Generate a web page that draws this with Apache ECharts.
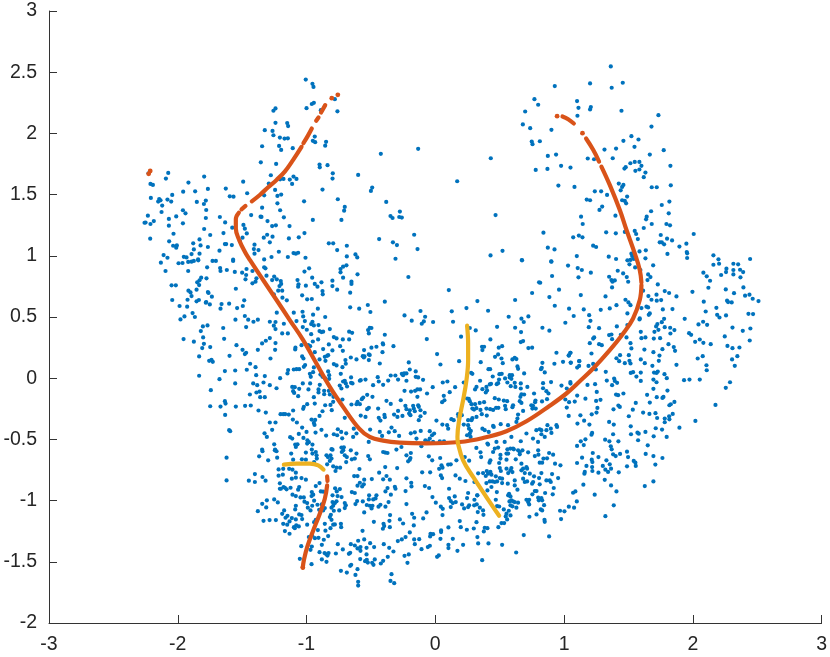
<!DOCTYPE html>
<html>
<head>
<meta charset="utf-8">
<style>html,body{margin:0;padding:0;background:#fff}#main{width:830px;height:657px}</style>
<script src="https://cdn.jsdelivr.net/npm/echarts@6/dist/echarts.min.js"></script>
</head>
<body>
<div id="main"></div>
<script>
// values, grouped by area of the plot
const pointsUpperLeft = [[-1.006,2.44],[-.954,2.405],[-.946,2.38],[-.78,2.28],[-.959,2.24],[-.943,2.25],[-1,2.206],[-.889,2.19],[-.76,2.18],[-1.241,2.204],[-1.257,2.185],[-1.241,2.086],[-1.15,2.084],[-1.143,2.06],[-1.324,2.026],[-1.264,2.02],[-1.257,1.985],[-1.207,1.966],[-1.171,1.958],[-1.145,1.96],[-.936,1.974],[-.951,1.939],[-.933,1.928],[-.848,1.931],[-.855,1.9],[-1.345,1.895],[-1.213,1.898],[-1.197,1.865],[-1.107,1.879],[-1.355,1.764],[-1.236,1.751],[-.899,1.745],[-.897,1.723],[-.837,1.74],[-.796,1.674],[-.798,1.631],[-.599,1.661],[-2.227,1.674],[-2.074,1.677],[-2.092,1.631],[-1.795,1.647],[-2.212,1.587],[-2.193,1.579],[-1.917,1.598],[-1.492,1.606],[-1.277,1.658],[-1.205,1.625],[-1.179,1.628],[-1.13,1.623],[-1.101,1.647],[-1.078,1.628],[-1.112,1.587],[-1.293,1.59],[-1.766,1.546],[-1.627,1.549],[-1.958,1.524],[-1.865,1.527],[-1.244,1.538],[-.876,1.541],[-2.043,1.497],[-1.461,1.511],[-1.596,1.486],[-1.567,1.483],[-1.329,1.494],[-1.226,1.489],[-1.197,1.5],[-2.209,1.473],[-2.144,1.464],[-2.134,1.453],[-2.152,1.443],[-2.08,1.459],[-2.051,1.443],[-1.852,1.44],[-1.782,1.451],[-1.797,1.423],[-2.121,1.41],[-1.226,1.429],[-1.019,1.445],[-.757,1.462],[-1.345,1.393],[-.703,1.399],[-.708,1.369],[-1.96,1.372],[-1.94,1.347],[-2.126,1.358],[-1.779,1.374],[-1.205,1.372],[-2.232,1.328],[-2.012,1.322],[-1.782,1.309],[-1.673,1.317],[-2.069,1.301],[-1.43,1.333],[-1.357,1.32],[-1.35,1.318],[-1.176,1.314],[-.951,1.293],[-.729,1.293],[-2.258,1.27],[-2.25,1.272],[-2.186,1.284],[-2.212,1.26],[-1.96,1.265],[-1.632,1.273],[-1.303,1.284],[-2.069,1.246],[-1.49,1.252],[-1.479,1.222],[-1.795,1.219],[-1.577,1.23],[-1.267,1.243],[-1.238,1.249],[-1.132,1.243],[-2.033,1.18],[-1.748,1.17],[-1.645,1.186],[-1.464,1.183],[-1.306,1.172],[-1.332,1.148],[-1.264,1.156],[-1.137,1.142],[-1.06,1.151],[-1.016,1.186],[-1.497,1.148],[-2.214,1.14],[-1.831,1.134],[-2.067,1.118],[-1.88,1.102],[-1.634,1.096],[-1.624,1.096],[-1.58,1.088],[-1.518,1.12],[-1.285,1.11],[-1.404,1.091],[-.827,1.102],[-.793,1.102],[-.687,1.082],[-2.036,1.082],[-2.007,1.085],[-2.012,1.066],[-1.823,1.085],[-1.766,1.072],[-1.875,1.052],[-1.676,1.042],[-1.409,1.055],[-1.373,1.047],[-1.404,1.017],[-1.215,1.033],[-.762,1.047],[-1.101,1.022],[-1.065,1.025],[-1.083,1.017],[-1.893,1.014],[-1.831,1.017],[-2.11,1.006],[-.687,.995],[-.62,1.011],[-1.953,.992],[-1.932,.987],[-2.08,.984],[-1.842,.97],[-1.272,.99],[-1.145,.99],[-1.008,.984],[-1.329,.97],[-1.57,.968]];

const pointsMiddleLeft = [[-2.131,.944],[-1.994,.939],[-1.963,.941],[-1.919,.95],[-1.893,.952],[-1.875,.958],[-1.841,.963],[-1.73,.958],[-1.704,.958],[-2.095,.876],[-1.772,.906],[-1.919,.876],[-1.671,.9],[-1.668,.876],[-1.619,.884],[-1.557,.868],[-1.5,.862],[-1.466,.892],[-1.57,.958],[-1.469,.843],[-1.474,.808],[-1.42,.876],[-1.329,.906],[-1.319,.898],[-1.311,.838],[-1.389,.816],[-1.396,.789],[-1.42,.775],[-1.251,.83],[-1.267,.802],[-1.231,.808],[-1.2,.794],[-1.197,.77],[-1.818,.821],[-1.831,.8],[-1.849,.783],[-1.834,.761],[-1.777,.816],[-2.048,.759],[-2.015,.759],[-1.549,.731],[-1.917,.715],[-1.901,.701],[-1.854,.723],[-1.893,.671],[-1.766,.704],[-1.761,.696],[-1.735,.666],[-2.043,.639],[-1.924,.641],[-1.854,.628],[-1.836,.639],[-1.779,.622],[-1.782,.617],[-1.751,.603],[-1.66,.606],[-1.668,.568],[-1.601,.609],[-1.484,.636],[-1.495,.59],[-1.539,.573],[-1.986,.59],[-1.927,.584],[-1.07,.802],[-1.062,.767],[-1.065,.748],[-1.005,.756],[-.956,.821],[-.936,.77],[-.915,.748],[-.884,.783],[-.799,.797],[-.799,.753],[-.762,.723],[-.876,.712],[-.874,.685],[-1.016,.871],[-.98,.898],[-.736,.892],[-.736,.865],[-.716,.911],[-.69,.922],[-.716,.821],[-.604,.849],[-.651,.789],[-.651,.77],[-.661,.699],[-1.034,.677],[-.995,.644],[-.959,.647],[-1.22,.715],[-1.189,.715],[-1.21,.753],[-1.187,.658],[-1.153,.636],[-1.254,.685],[-.912,.568],[-.661,.579],[-.591,.568],[-1.231,.535],[-1.099,.535],[-1.031,.543],[-1.026,.505],[-1.013,.467],[-.949,.519],[-.855,.5],[-1.979,.48],[-1.948,.505],[-1.885,.532],[-1.867,.5],[-1.552,.478],[-1.479,.508],[-1.453,.478],[-1.412,.461],[-1.378,.478],[-1.078,.467],[-.954,.461],[-.964,.442],[-.943,.431],[-.907,.434],[-1.285,.461],[-1.241,.459],[-1.254,.429],[-1.241,.401],[-1.176,.445],[-1.805,.423],[-1.769,.431],[-1.469,.418],[-1.647,.41],[-1.821,.385],[-1.029,.418],[-.998,.396],[-.964,.36],[-.819,.401],[-1.189,.366],[-1.145,.366],[-.899,.385],[-.884,.377],[-.871,.38],[-.669,.38],[-.646,.371],[-1.803,.333],[-1.955,.32],[-1.875,.298],[-1.64,.322],[-1.285,.328],[-1.316,.306],[-1.345,.284],[-1.241,.287],[-1.244,.232],[-.788,.336],[-.767,.325],[-.718,.317],[-.669,.317],[-1.797,.281],[-.91,.317],[-.951,.3],[-.827,.276],[-.739,.262],[-1.748,.254],[-1.81,.246],[-1.086,.249],[-1.088,.235],[-1.039,.27],[-.987,.27],[-.972,.262],[-.871,.238],[-.799,.227],[-.718,.224],[-1.544,.27],[-1.497,.232],[-1.469,.208],[-1.479,.197],[-1.378,.232],[-.936,.213],[-1.598,.183],[-1.834,.178],[-1.034,.178],[-1.024,.161],[-.84,.183],[-.832,.188],[-.858,.175],[-1.28,.161],[-.656,.169],[-1.756,.142],[-1.738,.15],[-1.728,.134],[-.899,.153],[-.853,.142],[-.698,.148],[-.612,.153],[-1.438,.118],[-1.396,.09],[-1.011,.107],[-1.021,.093],[-.788,.115],[-.767,.104],[-.695,.118],[-.721,.09],[-1.464,.069],[-1.634,.058],[-1.554,.063],[-1.143,.066],[-1.148,.039],[-1.099,.071],[-1.078,.074],[-1.057,.074],[-.943,.088],[-.949,.049],[-.974,.036],[-.967,.011],[-.832,.055],[-.824,.025],[-.734,.036],[-.892,.03],[-.876,.011],[-.855,-.002],[-.824,-.005],[-1.391,.025],[-1.324,.017],[-1.834,.02],[-1.205,0],[-.654,.006],[-1.676,-.008],[-1.554,-.043],[-1.414,-.043],[-1.383,-.057],[-1.334,-.035],[-1.285,-.057],[-1.233,-.082],[-1.029,-.043],[-.972,-.043],[-.897,-.054],[-.985,-.092],[-1.111,-.071],[-1.091,-.073],[-1.104,-.106],[-1.096,-.12],[-1.057,-.087],[-1.065,-.147],[-.703,-.021],[-.716,-.027],[-.695,-.043],[-.654,-.038],[-.643,-.043],[-.586,-.021],[-.742,-.06],[-.685,-.068],[-.729,-.084],[-1.743,-.098],[-1.44,-.133],[-1.389,-.117],[-1.365,-.109],[-1.36,-.155],[-1.324,-.155],[-.907,-.092],[-.907,-.117],[-.863,-.103],[-.863,-.131],[-.827,-.103],[-.819,-.133],[-.943,-.155],[-.791,-.152],[-1.748,-.229],[-1.668,-.232],[-1.634,-.188],[-1.629,-.207],[-1.549,-.232],[-1.477,-.226],[-1.433,-.223],[-1.021,-.234],[-1.026,-.25],[-.995,-.212],[-.936,-.207],[-.855,-.221],[-.814,-.218],[-.793,-.193],[-.721,-.174],[-.651,-.215],[-.612,-.212],[-.604,-.193],[-1.373,-.264],[-1.316,-.281],[-1.104,-.264],[-.876,-.27],[-.804,-.261],[-.899,-.308],[-1.202,-.294],[-1.181,-.294],[-1.166,-.294],[-1.138,-.297],[-1.632,-.3],[-1.106,-.338],[-1.075,-.362],[-1.285,-.362],[-1.241,-.362],[-.961,-.338],[-.933,-.341],[-.943,-.365],[-.938,-.382],[-.703,-.324],[-.633,-.412],[-1.034,-.403],[-1.601,-.425],[-1.593,-.433],[-1.267,-.422],[-1.326,-.45],[-1.308,-.48],[-1.06,-.455],[-1.024,-.488],[-1,-.439],[-.93,-.444],[-.884,-.422],[-.848,-.469],[-.788,-.458],[-.762,-.466],[-.731,-.439],[-.692,-.45],[-.757,-.417],[-.723,-.491],[-.612,-.452],[-.638,-.48],[-1.127,-.482],[-1.111,-.493],[-.993,-.507],[-.982,-.523],[-.954,-.542],[-.995,-.534],[-1.088,-.542],[-1.07,-.54],[-1.083,-.562],[-1.251,-.54],[-1.244,-.583],[-1.345,-.583],[-.959,-.583],[-.806,-.58],[-.729,-.567],[-.71,-.564]];

const pointsLowerLeft = [[-1.246,-.589],[-1.233,-.597],[-1.342,-.597],[-1.368,-.638],[-1.298,-.671],[-1.228,-.649],[-1.119,-.616],[-1.005,-.608],[-.928,-.603],[-.954,-.616],[-.922,-.63],[-.92,-.657],[-.941,-.685],[-1.036,-.663],[-1.005,-.666],[-1.104,-.666],[-.845,-.63],[-.814,-.63],[-.834,-.644],[-.806,-.657],[-.819,-.676],[-.84,-.704],[-.798,-.584],[-.726,-.603],[-.715,-.589],[-.703,-.63],[-.687,-.644],[-.692,-.685],[-.656,-.589],[-.612,-.616],[-.648,-.663],[-.625,-.657],[-.521,-.636],[-.508,-.663],[-.405,-.603],[-.389,-.608],[-.371,-.611],[-.19,-.611],[-.224,-.63],[-.193,-.652],[-.211,-.679],[-.198,-.666],[-.05,-.638],[-.024,-.671],[.038,-.652],[-.793,-.72],[-.767,-.731],[-.775,-.758],[-.739,-.731],[-.389,-.726],[-.296,-.734],[-.589,-.742],[-.604,-.8],[-.102,-.769],[-.04,-.769],[.048,-.712],[.03,-.74],[.056,-.731],[.1,-.706],[.043,-.794],[.053,-.816],[-.436,-.772],[-.379,-.799],[-.405,-.826],[-.353,-.829],[-1.217,-.745],[-1.181,-.74],[-1.217,-.796],[-1.184,-.788],[-1.135,-.74],[-1.109,-.747],[-1.083,-.772],[-1.114,-.821],[-1.083,-.813],[-1.039,-.816],[-1.005,-.829],[-1.401,-.783],[-1.342,-.807],[-1.318,-.837],[-1.401,-.848],[-1.448,-.837],[-1.621,-.649],[-1.621,-.835],[-.63,-.8],[-.552,-.829],[-.493,-.824],[-.586,-.854],[-.555,-.867],[-.568,-.884],[-.604,-.878],[-.224,-.818],[-.187,-.854],[-.185,-.884],[-.081,-.881],[-.048,-.897],[-.314,-.887],[-.309,-.903],[-.371,-.898],[-.387,-.925],[-.231,-.922],[-.345,-.952],[-.022,-.971],[.107,-.979],[.107,-.903],[-1.207,-.859],[-1.207,-.903],[-1.179,-.889],[-1.168,-.895],[-1.155,-.908],[-1.199,-.903],[-1.124,-.895],[-1.057,-.889],[-1.065,-.911],[-.928,-.881],[-.899,-.857],[-.889,-.925],[-.871,-.927],[-.959,-.93],[-.948,-.952],[-.961,-.963],[-.778,-.9],[-.741,-.906],[-.648,-.93],[-.625,-.938],[-1.109,-.952],[-1.083,-.963],[-1.047,-.974],[-1.021,-.974],[-.765,-.925],[-.798,-.957],[-.759,-.963],[-.728,-.971],[-.514,-.957],[-.457,-.957],[-.464,-.982],[-.482,-.99],[-.516,-.99],[-.607,-1.004],[-.62,-1.028],[-.563,-1.007],[-.532,-1.036],[-.508,-1.042],[-.488,-1.042],[-.495,-1.064],[-.441,-1.05],[-.426,-1.034],[-.387,-1.05],[-.363,-1.012],[-.224,-1.028],[.004,-1.017],[.043,-1.05],[.058,-1.067],[-1.308,-.998],[-1.251,-.99],[-1.223,-1.015],[-1.344,-1.026],[-1.313,-1.056],[-1.378,-1.086],[-1.016,-1.009],[-.995,-1.02],[-.941,-1.001],[-.956,-1.042],[-.99,-1.058],[-.969,-1.08],[-1.083,-1.042],[-1.088,-1.072],[-1.174,-1.08],[-1.189,-1.108],[-.915,-1.034],[-.881,-1.031],[-.902,-1.075],[-.871,-1.08],[-.858,-1.061],[-.806,-1.058],[-.793,-1.042],[-.767,-1.006],[-.78,-1.02],[-.798,-1.012],[-.703,-1.02],[-.695,-1.039],[-.703,-1.061],[-.746,-1.08],[-.788,-1.083],[-.552,-1.097],[-1.057,-1.113],[-1.039,-1.118],[-1.083,-1.154],[-1.034,-1.151],[-1.148,-1.124],[-1.163,-1.14],[-1.114,-1.143],[-1.132,-1.17],[-1.181,-1.19],[-1.15,-1.197],[-1.334,-1.165],[-1.287,-1.159],[-1.238,-1.159],[-1.098,-1.217],[-1.08,-1.203],[-1.06,-1.211],[-1.091,-1.225],[-.995,-1.197],[-.941,-1.176],[-.928,-1.157],[-.811,-1.116],[-.819,-1.135],[-.806,-1.157],[-.858,-1.19],[-.793,-1.197],[-.78,-1.195],[-.733,-1.19],[-.731,-1.217],[-.351,-1.118],[-.356,-1.165],[-.353,-1.217],[-.402,-1.19],[-.397,-1.208],[-.407,-1.23],[-.477,-1.173],[-.275,-1.154],[-.25,-1.187],[-.18,-1.108],[-.164,-1.14],[-.167,-1.203],[-.094,-1.146],[-.068,-1.097],[.056,-1.118],[-.037,-1.271],[-.017,-1.274],[-.04,-1.293],[.102,-1.219],[.045,-1.244],[.045,-1.257],[.04,-1.312],[-1.168,-1.249],[-1.132,-1.271],[-.982,-1.298],[-.956,-1.285],[-.935,-1.307],[-.907,-1.304],[-.912,-1.241],[-.853,-1.246],[-.814,-1.225],[-.866,-1.32],[-.832,-1.29],[-1.041,-1.372],[-.959,-1.375],[-.969,-1.402],[-.881,-1.361],[-.757,-1.356],[-.565,-1.247],[-.599,-1.328],[-.552,-1.317],[-.656,-1.356],[-.506,-1.348],[-.534,-1.386],[-.581,-1.38],[-.625,-1.367],[-.604,-1.391],[-.581,-1.41],[-.475,-1.38],[-.4,-1.356],[-.718,-1.399],[-.671,-1.435],[-.661,-1.427],[-.291,-1.331],[-.26,-1.317],[-.231,-1.298],[-.198,-1.26],[-.164,-1.317],[-.159,-1.356],[-.125,-1.315],[-.358,-1.386],[-.325,-1.416],[-.369,-1.459],[-.239,-1.451],[-.206,-1.44],[-.216,-1.508],[-.107,-1.397],[-.058,-1.38],[-.042,-1.369],[.014,-1.459],[.027,-1.448],[.102,-1.361],[.102,-1.388],[-.899,-1.421],[-.86,-1.429],[-.845,-1.44],[-.829,-1.429],[-.837,-1.449],[-.772,-1.432],[-.881,-1.481],[-.845,-1.5],[-1.052,-1.476],[-.961,-1.519],[-.534,-1.44],[-.532,-1.484],[-.583,-1.478],[-.545,-1.495],[-.524,-1.506],[-.47,-1.481],[-.49,-1.508],[-.48,-1.525],[-.423,-1.514],[-.405,-1.492],[-.661,-1.533],[-.653,-1.525],[-.604,-1.56],[-.687,-1.588],[-.733,-1.574],[-.62,-1.607],[-.34,-1.601],[-.348,-1.656],[-.319,-1.675],[-.599,-1.664],[-.599,-1.694]];

const pointsCentre = [[-.209,.827],[.105,.72],[-.392,.625],[.327,.63],[.62,.639],[.752,.696],[.806,.783],[.815,.78],[.907,.835],[1.031,.92],[1.106,.9],[.961,.723],[.886,.663],[.928,.592],[1.039,.568],[.902,.952],[.674,.963],[-.524,.598],[-.504,.541],[-.239,.513],[-.115,.549],[-.079,.502],[-.089,.464],[-.105,.445],[-.183,.47],[-.017,.459],[.128,.546],[.138,.461],[.242,.573],[.41,.551],[.57,.502],[.669,.486],[.687,.459],[.723,.505],[1.01,.453],[1.075,.508],[.48,.42],[.62,.412],[.832,.412],[.886,.388],[-.509,.412],[-.522,.393],[-.496,.41],[-.516,.366],[-.392,.355],[.314,.39],[.268,.41],[.666,.377],[.2,.339],[-.066,.32],[.428,.317],[.664,.295],[.682,.303],[-.408,.284],[-.405,.276],[-.325,.262],[-.496,.249],[-.457,.257],[-.553,.23],[-.41,.213],[.363,.257],[.379,.257],[.366,.23],[.493,.249],[.519,.262],[.723,.246],[.752,.249],[.941,.208],[1.049,.208],[1.036,.186],[.992,.134],[1.052,.126],[1.119,.14],[.014,.197],[-.563,.18],[-.55,.178],[-.516,.194],[-.509,.189],[-.516,.148],[-.555,.169],[-.431,.12],[-.206,.129],[.185,.139],[.04,.112],[.464,.175],[.488,.194],[.514,.161],[.524,.123],[.599,.153],[.617,.167],[.63,.156],[.353,.131],[.413,.074],[.426,.074],[.832,.126],[.827,.085],[.821,.074],[.925,.118],[.85,.047],[.638,.096],[.643,.077],[.69,.039],[.278,.044],[.288,.036],[-.198,.071],[-.242,.039],[-.26,.036],[-.224,.039],[-.152,.055],[-.346,.022],[-.31,.022],[-.289,-.011],[-.25,.025],[-.224,-.021],[-.152,.011],[-.133,.006],[-.095,-.013],[-.447,.008],[-.439,-.027],[-.405,-.054],[-.366,-.019],[-.483,-.057],[-.579,-.016],[-.542,-.011],[.446,.014],[.498,.033],[.516,.036],[.542,-.002],[.578,.025],[.596,.025],[.578,.006],[.591,-.005],[.617,-.038],[.56,-.035],[.586,-.065],[.622,-.071],[.495,-.011],[.488,-.041],[.423,-.051],[.477,-.049],[.433,-.046],[.348,-.021],[.32,-.071],[.309,-.092],[.058,-.035],[.094,-.027],[.221,-.035],[.397,-.071],[.402,-.1],[.366,-.09],[.392,-.117],[.154,-.073],[.112,-.114],[-.02,-.073],[-.239,-.103],[-.188,-.109],[-.157,-.103],[-.139,-.092],[-.118,-.092],[-.139,-.152],[-.064,-.125],[-.488,-.152],[-.529,-.136],[-.56,-.158],[-.571,-.171],[-.379,-.185],[-.346,-.21],[-.268,-.18],[.066,-.144],[.071,-.18],[.053,-.196],[.664,-.043],[.664,-.084],[.669,-.131],[.661,-.152],[.69,-.133],[.656,-.188],[.669,-.202],[.715,-.071],[.767,-.125],[.863,-.106],[.879,-.125],[.837,-.082],[.837,-.041],[.899,-.032],[.98,-.06],[1.021,-.084],[1.049,-.032],[.778,-.183],[.775,-.196],[.829,-.19],[.868,-.171],[1.01,-.174],[1.039,-.196],[1.021,-.24],[.462,-.163],[.493,-.174],[.532,-.183],[.558,-.188],[.604,-.221],[.599,-.237],[.345,-.202],[.379,-.196],[.309,-.212],[.26,-.169],[.268,-.188],[.247,-.166],[.397,-.248],[.426,-.253],[.449,-.259],[.472,-.242],[.49,-.242],[.542,-.226],[.547,-.253],[.746,-.221],[.759,-.226],[.754,-.248],[.78,-.248],[.682,-.267],[.288,-.248],[.301,-.256],[.319,-.245],[.281,-.212],[.351,-.259],[-.542,-.316],[-.579,-.305],[-.444,-.248],[-.439,-.324],[-.426,-.346],[-.395,-.3],[-.392,-.319],[-.516,-.242],[-.529,-.253],[-.586,-.212],[-.289,-.267],[-.32,-.297],[-.255,-.308],[-.294,-.316],[-.232,-.226],[-.224,-.253],[-.198,-.262],[-.203,-.289],[-.193,-.302],[-.172,-.226],[-.167,-.248],[-.133,-.221],[-.128,-.234],[-.159,-.27],[-.115,-.262],[-.082,-.283],[-.115,-.311],[-.128,-.343],[.009,-.346],[.055,-.379],[.092,-.384],[.1,-.412],[.125,-.335],[.143,-.343],[.221,-.379],[.255,-.343],[.288,-.327],[.281,-.343],[.32,-.316],[.361,-.294],[.4,-.305],[.177,-.294],[.18,-.315],[.206,-.302],[.255,-.384],[.262,-.412],[.276,-.431],[.268,-.452],[.247,-.466],[.274,-.48],[.366,-.412],[.384,-.425],[.449,-.39],[.454,-.398],[.508,-.376],[.565,-.384],[.643,-.297],[.638,-.33],[.63,-.357],[.415,-.439],[.41,-.542],[.405,-.534],[.475,-.521],[.539,-.521],[.591,-.48],[.604,-.575],[.583,-.575],[.664,-.515],[.708,-.452],[.759,-.493],[.798,-.521],[.785,-.425],[.811,-.417],[.824,-.458],[.824,-.425],[.863,-.425],[.85,-.48],[.902,-.447],[.941,-.384],[.946,-.398],[.897,-.412],[.871,-.384],[1.036,-.308],[-.506,-.42],[-.431,-.439],[-.413,-.472],[-.34,-.403],[-.361,-.442],[-.315,-.433],[-.281,-.472],[-.19,-.45],[-.159,-.442],[-.113,-.431],[-.146,-.493],[-.043,-.433],[-.009,-.452],[-.025,-.466],[-.043,-.493],[-.077,-.507],[-.056,-.515],[-.017,-.521],[.035,-.515],[.068,-.515],[-.108,-.556],[-.263,-.562],[-.302,-.583],[-.517,-.521],[.319,-.57],[.462,-.575],[.488,-.567],[1.101,-.553]];

const pointsLowerRight = [[.351,-.606],[.356,-.644],[.449,-.603],[.506,-.627],[.553,-.616],[.566,-.616],[.61,-.581],[.643,-.589],[.656,-.603],[.677,-.589],[.721,-.606],[.56,-.581],[.656,-.622],[.799,-.589],[.773,-.636],[.801,-.625],[.884,-.611],[.915,-.625],[.84,-.657],[.868,-.655],[.428,-.671],[.421,-.69],[.506,-.657],[.496,-.693],[.553,-.666],[.625,-.663],[.669,-.698],[.811,-.69],[.83,-.69],[.93,-.698],[.972,-.712],[.164,-.671],[.12,-.704],[.263,-.674],[.229,-.644],[.708,-.726],[.682,-.739],[.713,-.739],[.669,-.753],[.501,-.734],[.509,-.758],[.553,-.739],[.591,-.734],[.599,-.767],[.566,-.775],[.584,-.753],[.4,-.758],[.428,-.766],[.41,-.78],[.392,-.799],[.333,-.777],[.371,-.775],[.436,-.788],[.47,-.802],[.501,-.816],[.519,-.821],[.48,-.843],[.444,-.843],[.423,-.843],[.462,-.848],[.519,-.857],[.397,-.857],[.19,-.821],[.234,-.84],[.304,-.848],[.157,-.794],[.695,-.775],[.734,-.78],[.767,-.802],[.806,-.816],[.824,-.775],[.907,-.783],[.954,-.816],[.889,-.835],[.863,-.835],[.897,-.848],[.682,-.821],[.713,-.843],[.695,-.848],[.752,-.862],[.76,-.848],[.811,-.867],[.617,-.835],[.617,-.876],[.563,-.862],[.638,-.911],[.478,-.93],[.436,-.889],[.405,-.917],[.325,-.957],[.255,-.938],[.247,-.979],[.773,-.922],[.754,-.949],[.786,-.922],[.853,-.938],[.92,-.897],[.912,-.949],[1.07,-.936],[1.088,-.925],[1.238,-.952],[1.15,-.87],[1.099,-1.007],[1.407,-.925],[1.365,-.876],[1.316,-.83],[1.386,-1.039],[1.321,-1.127],[1.627,-.881],[1.694,-.843],[.566,-.957],[.573,-.944],[.584,-.966],[.591,-.998],[.576,-1.007],[.604,-1.007],[.617,-1.012],[.643,-1.017],[.584,-1.039],[.63,-1.058],[.599,-1.047],[.571,-1.083],[.708,-.993],[.729,-.993],[.721,-1.012],[.729,-1.031],[.799,-.976],[.824,-.979],[.804,-.998],[.83,-.998],[.845,-1.037],[.819,-1.072],[.83,-1.08],[.47,-.993],[.48,-1.045],[.496,-1.048],[.532,-1.072],[.553,-1.107],[.547,-1.129],[.584,-1.121],[.558,-1.154],[.514,-1.184],[.535,-1.184],[.49,-1.217],[.327,-.957],[.322,-1.031],[.304,-.993],[.302,-1.039],[.263,-1.039],[.255,-1.053],[.208,-1.031],[.224,-1.064],[.151,-.966],[.12,-1.004],[.136,-1.02],[.159,-1.012],[.12,-1.053],[.346,-1.058],[.33,-1.094],[.371,-1.08],[.374,-1.116],[.731,-1.132],[.786,-1.113],[.848,-1.157],[.85,-1.173],[.969,-1.083],[1.003,-1.088],[1.037,-1.05],[1.078,-1.058],[.977,-1.151],[.19,-1.167],[.198,-1.217],[.245,-1.238],[.299,-1.228],[.32,-1.176],[.384,-1.222],[.405,-1.225],[.377,-1.252],[.687,-1.282],[.884,-1.293],[.327,-1.298],[.333,-1.35],[.413,-1.35],[.519,-1.361],[.628,-1.424],[.216,-1.361],[.172,-1.41],[.136,-1.312],[.364,-1.487],[1.218,-.447],[1.213,-.461],[1.381,-.458],[1.52,-.458],[1.57,-.445],[1.58,-.453],[1.632,-.439],[1.696,-.475],[1.797,-.48],[1.575,-.507],[1.166,-.499],[1.13,-.516],[1.153,-.546],[1.319,-.502],[1.352,-.516],[1.422,-.516],[1.363,-.556],[1.37,-.581],[1.65,-.548],[1.223,-.611],[1.14,-.649],[1.267,-.644],[1.215,-.666],[1.22,-.685],[1.174,-.717],[1.218,-.726],[1.22,-.758],[1.161,-.766],[1.158,-.78],[1.267,-.772],[1.301,-.717],[1.329,-.671],[1.355,-.704],[1.321,-.747],[1.365,-.739],[1.342,-.766],[1.425,-.769],[1.101,-.693],[1.381,-.622],[1.401,-.636],[1.435,-.619],[1.489,-.6],[1.497,-.644],[1.489,-.72],[1.541,-.676],[1.554,-.69],[1.557,-.717],[1.634,-.619],[1.694,-.636],[1.764,-.652],[1.709,-.706]];

const pointsRight = [[1.071,1.151],[1.115,1.165],[1.143,1.151],[1.099,.998],[1.327,1.192],[1.402,1.184],[1.472,1.195],[1.549,1.203],[1.56,1.178],[1.573,1.137],[1.751,1.17],[1.8,1.14],[1.839,1.126],[2.007,1.178],[1.743,1.11],[1.759,1.11],[1.777,1.094],[1.226,1.083],[1.249,1.072],[1.586,1.036],[1.635,1.045],[1.523,1.017],[1.529,.998],[1.542,.974],[1.347,.993],[1.404,.974],[1.492,.963],[1.516,.966],[1.508,.93],[1.552,.905],[1.632,.979],[1.692,.922],[1.803,1.015],[1.896,1.075],[1.95,1.099],[1.953,1.031],[1.956,1.02],[1.956,.982],[2.16,1.004],[2.199,.971],[2.16,.927],[2.204,.935],[2.445,.974],[2.315,.935],[2.352,.93],[2.261,.895],[2.258,.867],[2.315,.884],[2.315,.848],[2.367,.886],[2.391,.867],[2.37,.824],[2.22,.843],[2.082,.862],[2.108,.832],[2.134,.796],[2.121,.739],[1.138,.884],[1.208,.862],[1.112,.824],[1.417,.878],[1.459,.856],[1.487,.826],[1.498,.788],[1.35,.829],[1.368,.802],[1.376,.788],[1.394,.799],[1.373,.742],[1.593,.884],[1.653,.848],[1.671,.826],[1.648,.802],[1.728,.766],[1.614,.715],[1.655,.671],[1.679,.641],[1.718,.682],[1.72,.633],[1.754,.638],[1.782,.712],[1.816,.696],[1.873,.668],[1.322,.668],[1.13,.679],[1.997,.706],[2.256,.725],[2.32,.695],[2.406,.674],[2.44,.682],[2.465,.649],[2.51,.63],[2.393,.742],[2.085,.625],[2.266,.633],[2.274,.622],[2.302,.619],[2.1,.545],[2.183,.575],[2.189,.518],[2.207,.496],[2.258,.513],[2.432,.526],[2.468,.524],[1.477,.641],[1.5,.619],[1.516,.597],[1.407,.597],[1.355,.57],[1.285,.559],[1.153,.562],[1.601,.573],[1.64,.584],[1.653,.578],[1.492,.529],[1.666,.529],[1.658,.518],[1.767,.562],[1.842,.565],[1.195,.515],[1.205,.469],[1.192,.417],[1.272,.409],[1.588,.488],[1.586,.48],[1.777,.485],[1.937,.485],[1.759,.458],[1.725,.442],[1.715,.423],[1.733,.395],[1.702,.379],[1.697,.324],[1.41,.423],[1.492,.434],[1.782,.417],[1.824,.412],[1.857,.393],[1.826,.365],[1.746,.327],[2.044,.439],[2.08,.461],[2.111,.436],[2.308,.414],[2.388,.387],[2.447,.406],[2.248,.341],[2.442,.308],[1.971,.368],[1.987,.354],[2.018,.297],[2.054,.316],[2.082,.289],[2.139,.278],[1.596,.379],[1.601,.327],[1.632,.333],[1.35,.352],[1.368,.357],[1.373,.319],[1.441,.354],[1.485,.333],[1.234,.333],[1.226,.324],[1.2,.286],[1.272,.278],[1.293,.27],[1.516,.286],[1.523,.243],[1.624,.234],[1.694,.213],[1.764,.237],[1.852,.254],[1.862,.224],[1.811,.278],[2.269,.264],[2.308,.245],[2.362,.251],[1.213,.202],[1.05,.207],[1.037,.185],[1.435,.188],[1.428,.139],[1.407,.163],[1.503,.188],[1.596,.153],[1.741,.185],[1.736,.142],[1.508,.142],[1.516,.12],[1.472,.123],[1.627,.123],[2.077,.18],[2.038,.161],[2.305,.153],[2.346,.18],[2.326,.101],[2.106,.106],[2.108,.065],[1.873,.109],[1.117,.139],[1.052,.128],[1.226,.117],[1.19,.1],[1.117,.1],[1.102,.087],[1.686,.101],[1.324,.052],[1.247,.071],[1.518,.043],[1.536,.049],[1.562,.013],[1.596,.046],[1.596,-.022],[1.699,.046],[1.718,.043],[1.728,.054],[1.78,.033],[1.798,0],[1.694,-.011],[1.718,-.033],[1.932,-.016],[1.974,-.011],[2.054,-.011],[2.289,-.033],[2.256,-.079],[2.176,-.218],[1.332,-.019],[1.389,-.003],[1.394,-.022],[1.412,-.038],[1.373,-.057],[1.05,-.044],[1.182,-.055],[1.241,-.049],[1.254,-.112],[1.404,-.134],[1.42,-.139],[1.461,-.125],[1.645,-.136],[1.772,-.153],[1.803,-.101],[1.694,-.087],[1.72,-.155],[1.764,-.161],[1.102,-.142],[1.166,-.167],[1.249,-.186],[1.283,-.177],[1.083,-.191],[1.557,-.202],[1.666,-.199],[1.857,-.194],[1.829,-.213],[1.818,-.221],[1.422,-.224],[1.433,-.235],[1.384,-.254],[1.259,-.243],[1.252,-.281],[1.215,-.295],[1.127,-.303],[1.156,-.347],[1.197,-.379],[1.104,-.371],[1.534,-.257],[1.614,-.281],[1.503,-.311],[1.663,-.292],[1.71,-.286],[1.723,-.325],[1.816,-.311],[1.844,-.292],[1.782,-.33],[1.818,-.336],[1.782,-.36],[1.35,-.357],[1.386,-.379],[1.518,-.393],[1.712,-.409],[1.896,-.404],[2.02,-.349],[1.761,-.42]];

const pointsUpperRight = [[1.363,2.547],[1.202,2.408],[1.456,2.414],[1.37,2.373],[.928,2.387],[.77,2.28],[.799,2.234],[.698,2.179],[1.101,2.264],[1.112,2.209],[1.208,2.215],[1.202,2.196],[1.446,2.185],[1.104,2.144],[1.733,2.149],[.68,2.073],[.737,2.043],[.902,2.029],[1.679,2.056],[.749,1.934],[.755,1.912],[.812,1.936],[1.523,1.977],[1.578,1.95],[1.461,1.939],[1.547,1.89],[1.404,1.876],[1.314,1.868],[1.774,1.863],[1.666,1.827],[.874,1.816],[.938,1.827],[1.184,1.795],[1.233,1.789],[1.378,1.797],[1.549,1.767],[1.585,1.767],[1.515,1.756],[1.601,1.735],[1.479,1.724],[1.469,1.713],[1.554,1.694],[1.585,1.705],[1.632,1.68],[1.619,1.642],[1.826,1.735],[.977,1.735],[1.05,1.721],[.78,1.702],[.871,1.71],[.956,1.574],[1.081,1.563],[1.425,1.59],[1.461,1.579],[1.451,1.563],[1.44,1.535],[1.681,1.56],[1.72,1.56],[1.829,1.576],[1.239,1.527],[1.288,1.527],[1.334,1.497],[1.176,1.459],[1.202,1.454],[1.49,1.484],[1.451,1.454],[1.472,1.448],[1.482,1.429],[1.759,1.415],[1.818,1.443],[1.275,1.375],[1.296,1.402],[1.676,1.364],[1.642,1.32],[1.637,1.298],[1.813,1.347],[1.132,1.32],[1.399,1.328],[1.145,1.26],[1.795,1.26],[1.823,1.249],[1.681,1.26],[1.619,1.227]];

const pointsTopMiddle = [[-.423,1.833],[-.133,1.874],[.431,1.797],[.17,1.609],[-.49,1.557],[-.5,1.53],[-.381,1.44],[-.348,1.325],[-.332,1.309],[-.275,1.361],[-.28,1.317],[-.26,1.312],[.468,1.333],[-.436,1.137],[-.164,1.172],[-.329,1.11],[-.298,1.088],[-.138,1.055],[-.606,.987],[-.309,.976],[.429,1.003],[.522,1.041],[.672,.965],[.84,1.189],[.874,1.066],[.926,1.052],[.9,.954]];

// red curve, null marks a gap in the line
const redLine = [[-.855,2.231],[-.887,2.171],null,[-.907,2.13],[-.925,2.103],null,[-.959,2.04],[-.99,1.98],[-1.024,1.92],null,[-1.039,1.89],[-1.104,1.784],[-1.169,1.688],[-1.233,1.62],[-1.298,1.56],[-1.363,1.497],[-1.425,1.445],null,[-1.474,1.407],[-1.505,1.38],null,[-1.526,1.352],[-1.549,1.3],[-1.549,1.224],[-1.523,1.129],[-1.479,1.033],[-1.44,.966],[-1.337,.802],[-1.233,.639],[-1.13,.475],[-1.026,.311],[-.923,.12],[-.819,-.071],[-.716,-.234],[-.591,-.412],[-.509,-.48],[-.405,-.51],[-.276,-.526],[-.069,-.532],[.19,-.521],[.371,-.488],[.552,-.433],[.708,-.352],[.889,-.225],[1.018,-.125],[1.122,-.025],[1.226,.079],[1.355,.229],[1.459,.365],[1.536,.488],[1.588,.638],[1.601,.761],null,[1.601,.78],[1.588,.884],[1.549,1.02],[1.485,1.211],[1.433,1.374],[1.355,1.579],[1.29,1.729],null,[1.272,1.77],[1.226,1.866],[1.171,1.958],null,[1.076,2.081],[1.032,2.116],[.988,2.138]];
const redLineLower = [[-.84,-.802],[-.837,-.84],null,[-.84,-.876],[-.858,-.985],[-.897,-1.107],[-.948,-1.244],[-.995,-1.38],[-1.021,-1.489],[-1.029,-1.547]];
const redDots = [[-.757,2.315],[-.804,2.288],[1.143,2.002],[.946,2.141],[-2.214,1.693],[-2.226,1.67],[-1.029,-1.547]];

const yellowLine = [[.247,.429],[.255,.284],[.255,.148],[.242,-.016],[.216,-.18],[.185,-.343],[.172,-.48],[.177,-.535],[.216,-.671],[.294,-.807],[.397,-.971],[.496,-1.124]];
const yellowLineLower = [[-1.176,-.706],[-1.078,-.698],[-.974,-.698],[-.909,-.712],[-.868,-.747]];

const pointsAll = [].concat(pointsUpperLeft, pointsMiddleLeft, pointsLowerLeft, pointsCentre, pointsLowerRight, pointsRight, pointsUpperRight, pointsTopMiddle);

const tickColor = '#333333';
const labelStyle = { color: '#262626', fontFamily: 'Liberation Sans', fontSize: 19.5, showMinLabel: true, showMaxLabel: true };
const axisCommon = {
  type: 'value',
  axisLine: { show: true, onZero: false, lineStyle: { color: tickColor, width: 1 } },
  axisTick: { show: true, inside: true, length: 8, lineStyle: { color: tickColor, width: 1 } },
  splitLine: { show: false }
};
function curve(data, color) {
  return {
    type: 'line',
    data: data.map(p => p === null ? [null, null] : p),
    smooth: 0.4,
    showSymbol: false,
    connectNulls: false,
    lineStyle: { color: color, width: 4.2, cap: 'round', join: 'round' },
    silent: true
  };
}

const chart = echarts.init(document.getElementById('main'), null, { renderer: 'canvas' });
chart.setOption({
  animation: false,
  backgroundColor: '#fff',
  grid: { left: 49, right: 7, top: 11, bottom: 34, containLabel: false },
  xAxis: Object.assign({}, axisCommon, { min: -3, max: 3, interval: 1, axisLabel: Object.assign({}, labelStyle, { margin: 12 }) }),
  yAxis: Object.assign({}, axisCommon, { min: -2, max: 3, interval: 0.5, axisLabel: Object.assign({}, labelStyle, { margin: 12, padding: [5, 0, 0, 0] }) }),
  series: [
    { type: 'scatter', data: pointsAll, symbolSize: 4.2, itemStyle: { color: '#0072BD', opacity: 1 }, silent: true },
    curve(redLine, '#D95319'),
    curve(redLineLower, '#D95319'),
    { type: 'scatter', data: redDots, symbolSize: 4.8, itemStyle: { color: '#D95319', opacity: 1 }, silent: true },
    curve(yellowLine, '#EDB120'),
    curve(yellowLineLower, '#EDB120')
  ]
});
</script>
</body>
</html>
